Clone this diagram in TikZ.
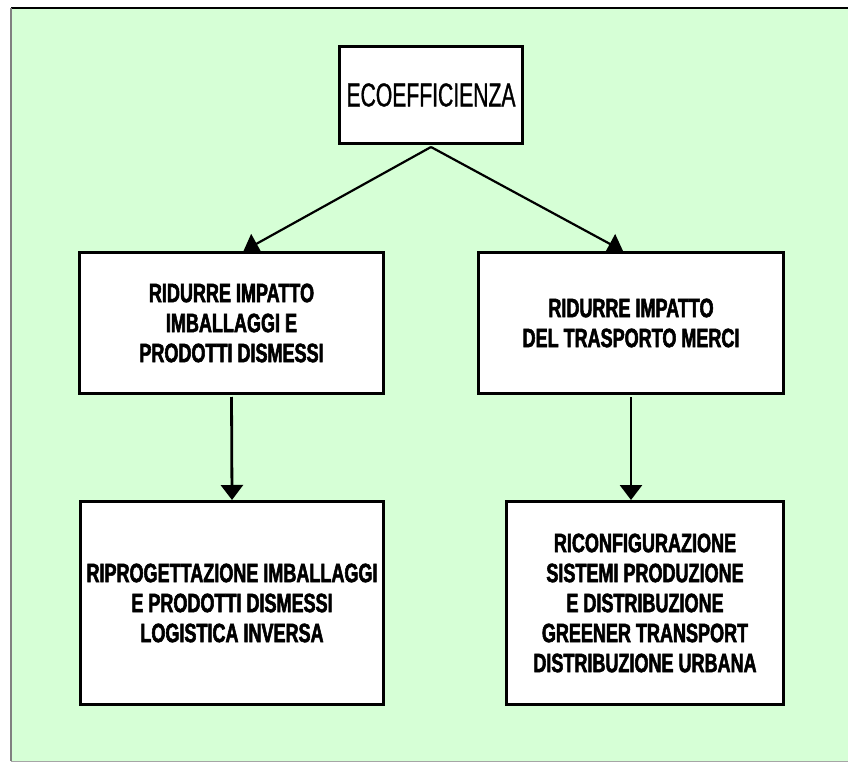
\documentclass[tikz,border=0pt]{standalone}
\usepackage{fontspec}
\setmainfont{Liberation Sans}[FakeStretch=0.68, FakeBold=2]
\newfontfamily\ecofont{Liberation Sans}[FakeStretch=0.64, FakeBold=1]
\usetikzlibrary{arrows.meta, positioning, calc}
\definecolor{panelgreen}{RGB}{214,255,214}

\begin{document}
\begin{tikzpicture}[x=1pt, y=-1pt,
  box/.style={draw, line width=3pt, fill=white, align=center, inner sep=0pt,
    font=\bfseries\fontsize{26.5}{30}\selectfont},
  link/.style={line width=2.8pt, -{Triangle[width=22pt, length=15pt]}}]
  \useasboundingbox (0,0) rectangle (848,762);

  % Panel
  \fill[panelgreen] (11,8) rectangle (848,761);
  \draw[line width=1.2pt] (11,8) -- (848,8);
  \draw[line width=2pt, gray] (11,8) -- (11,761);
  \draw[line width=1pt, gray!70] (11,761) -- (848,761);

  % Boxes
  \node[box, minimum width=183pt, minimum height=97pt,
    font=\ecofont\fontsize{33}{36}\selectfont] (eco) at (431,95) {ECOEFFICIENZA};
  \node[box, minimum width=304pt, minimum height=141pt] (imballi) at (231.5,323)
    {RIDURRE IMPATTO\\IMBALLAGGI E\\PRODOTTI DISMESSI};
  \node[box, minimum width=305pt, minimum height=141pt] (trasporto) at (631,323)
    {RIDURRE IMPATTO\\DEL TRASPORTO MERCI};
  \node[box, minimum width=303pt, minimum height=203pt] (riprog) at (232,603)
    {RIPROGETTAZIONE IMBALLAGGI\\E PRODOTTI DISMESSI\\LOGISTICA INVERSA};
  \node[box, minimum width=277pt, minimum height=203pt] (riconf) at (645,603)
    {RICONFIGURAZIONE\\SISTEMI PRODUZIONE\\E DISTRIBUZIONE\\GREENER TRANSPORT\\DISTRIBUZIONE URBANA};

  % Arrows
  \draw[link, line width=2.2pt] ([yshift=-2pt]eco.south) -- ([xshift=12pt]imballi.north);
  \draw[link, line width=2.2pt] ([yshift=-2pt]eco.south) -- ([xshift=-8pt]trasporto.north);
  \draw[link, shorten <=2pt] (imballi.south) -- (riprog.north);
  \draw[link, shorten <=2pt] (trasporto.south) -- (trasporto.south |- riconf.north);
\end{tikzpicture}
\end{document}
